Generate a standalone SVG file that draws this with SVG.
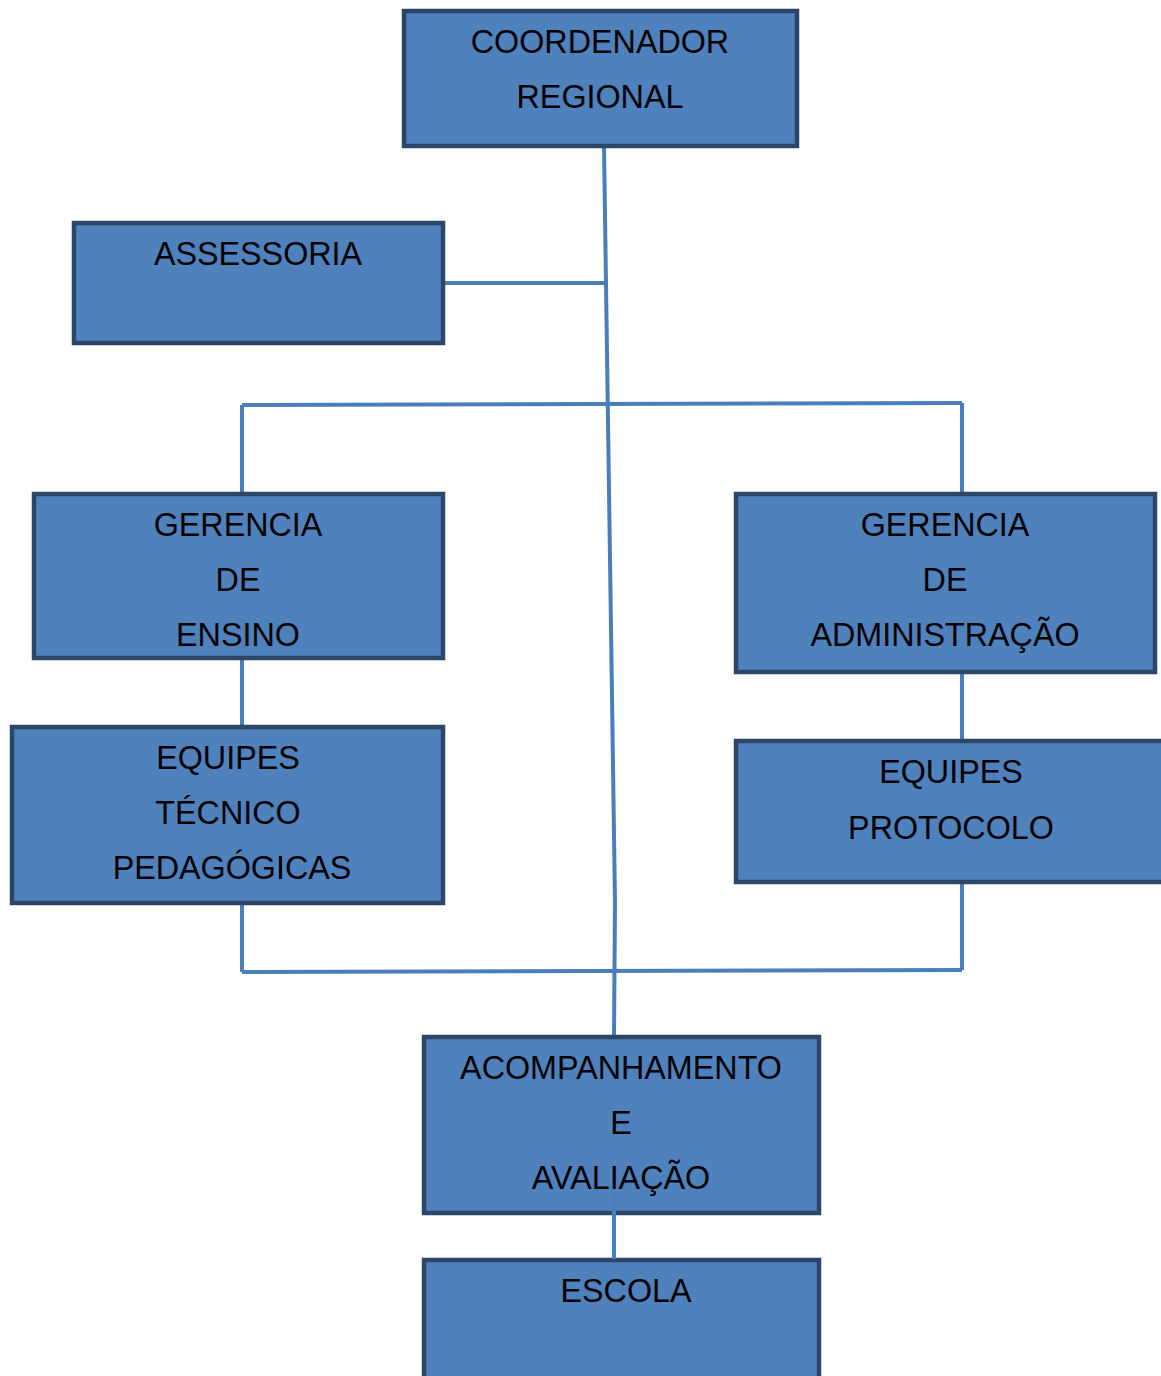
<svg xmlns="http://www.w3.org/2000/svg" width="1161" height="1376" viewBox="0 0 1161 1376">
<style>
.box{fill:#4f81bd;stroke:#2c4668;stroke-width:4.5}
.t{font-family:"Liberation Sans",Arial,sans-serif;font-size:32.3px;fill:#000;text-anchor:middle}
.c{stroke:#4a7ebb;stroke-width:4;fill:none}
</style>
<rect width="1161" height="1376" fill="#fff"/>
<g id="connectors">
<polyline class="c" points="604,146 615,903 614,1036"/>
<line class="c" x1="443" y1="283" x2="605" y2="283"/>
<line class="c" x1="242" y1="405" x2="962" y2="403"/>
<line class="c" x1="242" y1="405" x2="242" y2="493"/>
<line class="c" x1="962" y1="403" x2="962" y2="493"/>
<line class="c" x1="242" y1="658" x2="242" y2="726"/>
<line class="c" x1="962" y1="672" x2="962" y2="741"/>
<line class="c" x1="242" y1="972" x2="962" y2="970"/>
<line class="c" x1="242" y1="903" x2="242" y2="972"/>
<line class="c" x1="962" y1="882" x2="962" y2="970"/>
</g>
<g id="coordenador">
<rect class="box" x="404" y="11" width="393" height="135"/>
<text class="t" x="600" y="53">COORDENADOR</text>
<text class="t" x="600" y="108">REGIONAL</text>
</g>
<g id="assessoria">
<rect class="box" x="74" y="223" width="369" height="120"/>
<text class="t" x="258" y="265">ASSESSORIA</text>
</g>
<g id="gerencia-ensino">
<rect class="box" x="34" y="494" width="409" height="164"/>
<text class="t" x="238" y="536">GERENCIA</text>
<text class="t" x="238" y="591">DE</text>
<text class="t" x="238" y="646">ENSINO</text>
</g>
<g id="gerencia-admin">
<rect class="box" x="736" y="494" width="419" height="178"/>
<text class="t" x="945" y="536">GERENCIA</text>
<text class="t" x="945" y="591">DE</text>
<text class="t" x="945" y="646">ADMINISTRAÇÃO</text>
</g>
<g id="equipes-tecnico">
<rect class="box" x="12" y="727" width="431" height="176"/>
<text class="t" x="228" y="769">EQUIPES</text>
<text class="t" x="228" y="824">TÉCNICO</text>
<text class="t" x="232" y="879">PEDAGÓGICAS</text>
</g>
<g id="equipes-protocolo">
<rect class="box" x="736" y="741" width="440" height="141"/>
<text class="t" x="951" y="783">EQUIPES</text>
<text class="t" x="951" y="839">PROTOCOLO</text>
</g>
<g id="acompanhamento">
<rect class="box" x="424" y="1037" width="395" height="176"/>
<text class="t" x="621" y="1079">ACOMPANHAMENTO</text>
<text class="t" x="621" y="1134">E</text>
<text class="t" x="621" y="1189">AVALIAÇÃO</text>
</g>
<g id="escola">
<rect class="box" x="424" y="1260" width="395" height="130"/>
<text class="t" x="626" y="1302">ESCOLA</text>
</g>
<line class="c" x1="614" y1="1195" x2="614" y2="1259"/>
</svg>
